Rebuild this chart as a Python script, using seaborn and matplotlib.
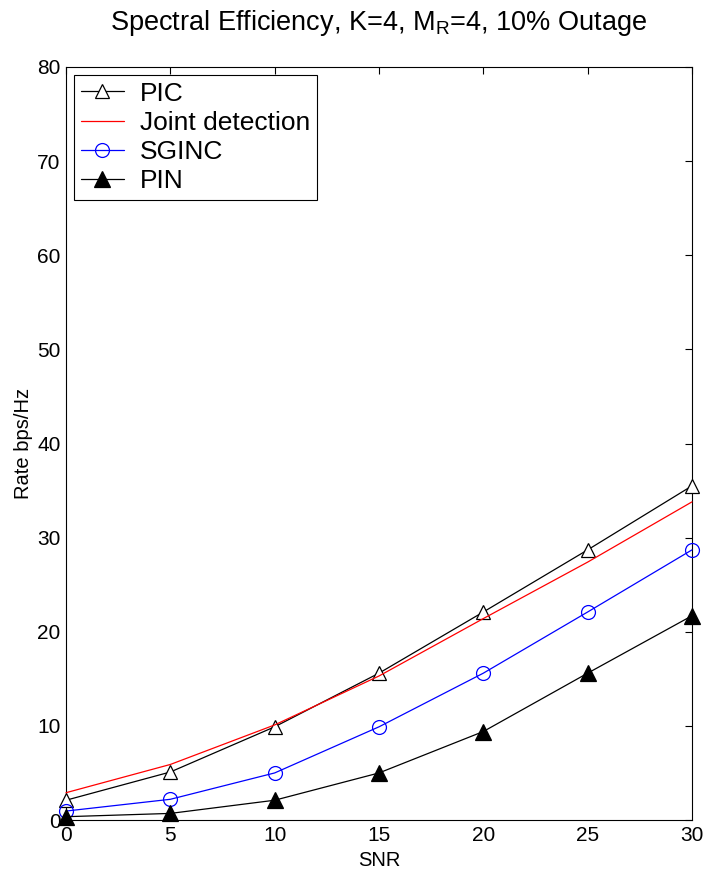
import matplotlib
matplotlib.use("Agg")
import matplotlib.pyplot as plt
import seaborn as sns
import pandas as pd

snr = [0, 5, 10, 15, 20, 25, 30]
pic = [2.1, 5.1, 9.9, 15.6, 22.1, 28.7, 35.5]
joint = [2.9, 5.9, 10.1, 15.3, 21.4, 27.4, 33.8]
sginc = [0.95, 2.2, 5.0, 9.9, 15.6, 22.1, 28.7]
pin = [0.35, 0.7, 2.1, 5.0, 9.4, 15.6, 21.7]

x_ticks = [0, 5, 10, 15, 20, 25, 30]
y_ticks = [0, 10, 20, 30, 40, 50, 60, 70, 80]

sns.set_style("white")
plt.rcParams['font.family'] = ['Liberation Sans', 'DejaVu Sans']
plt.rcParams['mathtext.fontset'] = 'custom'
plt.rcParams['mathtext.rm'] = 'Liberation Sans'
plt.rcParams['text.color'] = 'black'
plt.rcParams['axes.labelcolor'] = 'black'

fig = plt.figure(figsize=(7.07, 8.76), dpi=100)
ax = fig.add_axes([66/707, 1-820/876, (692-66)/707, (820-67)/876])

series = [
    ("PIC", pic, dict(color="black", marker="^", markerfacecolor="white", markeredgecolor="black", markersize=10)),
    ("Joint detection", joint, dict(color="red", marker=None)),
    ("SGINC", sginc, dict(color="blue", marker="o", markerfacecolor="none", markeredgecolor="blue", markersize=10)),
    ("PIN", pin, dict(color="black", marker="^", markerfacecolor="black", markeredgecolor="black", markersize=12)),
]
for name, vals, kw in series:
    df = pd.DataFrame({"SNR": snr, "rate": vals})
    sns.lineplot(data=df, x="SNR", y="rate", ax=ax, label=name, linewidth=0.9,
                 markeredgewidth=0.9, clip_on=False, zorder=3, **kw)

ax.set_xlim(0, 30)
ax.set_ylim(0, 80)
ax.set_xticks(x_ticks)
ax.set_yticks(y_ticks)
ax.tick_params(direction="in", length=5, width=0.8, top=True, right=True,
               labelsize=15, colors="black", pad=4)
for s in ax.spines.values():
    s.set_color("black")
    s.set_linewidth(0.8)
    s.set_visible(True)

ax.set_xlabel("SNR", fontsize=14.5, labelpad=5, color="black")
ax.set_ylabel("Rate bps/Hz", fontsize=14.5, labelpad=3, color="black")
ax.set_title("Spectral Efficiency, K=4, M$_\\mathregular{R}$=4, 10% Outage",
             fontsize=19.5, pad=27, color="black")

leg = ax.legend(loc="upper left", fontsize=19, frameon=True, fancybox=False,
                edgecolor="black", framealpha=1, borderaxespad=0.3,
                handlelength=1.65, handletextpad=0.6, labelspacing=0.2, borderpad=0.25)
leg.get_frame().set_linewidth(0.8)
for t in leg.get_texts():
    t.set_color("black")

fig.savefig("out.png", dpi=100)
